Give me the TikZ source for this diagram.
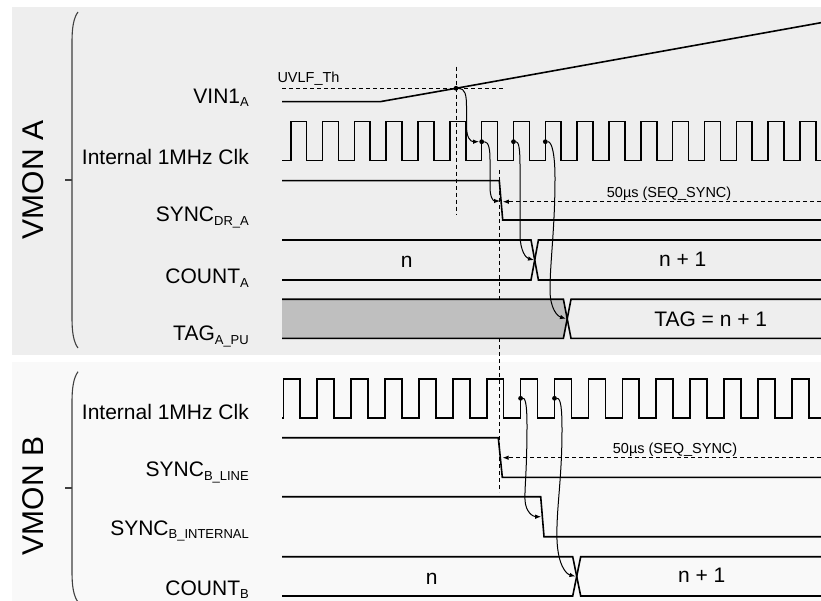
\documentclass[tikz,border=0pt]{standalone}
\usepackage{fontspec}
\setmainfont{Liberation Sans}
\usetikzlibrary{arrows.meta}
\definecolor{bgA}{HTML}{EEEEEE}
\definecolor{bgB}{HTML}{F9F9F9}
\definecolor{tagfill}{HTML}{BFBFBF}
\newcommand{\sigsub}[1]{\raisebox{-3.5pt}{\fontsize{13}{13}\selectfont #1}}
\begin{document}
\begin{tikzpicture}[x=1pt,y=-1pt,
  sig/.style={line width=1.6pt, line join=miter},
  lbl/.style={anchor=base east, inner sep=0pt, font=\fontsize{21}{25}\selectfont},
  buslbl/.style={anchor=base, inner sep=0pt, font=\fontsize{21}{25}\selectfont},
  note/.style={anchor=base west, inner sep=0pt, font=\fontsize{14.5}{17}\selectfont},
  grp/.style={rotate=90, inner sep=0pt, font=\fontsize{30}{34}\selectfont},
  guide/.style={line width=0.9pt, dash pattern=on 4pt off 3pt},
  cause/.style={line width=1pt, -{Latex[length=6pt,width=4.5pt]}},
  evdot/.style={circle, fill=black, inner sep=0pt, minimum size=4.8pt},
  bracket/.style={line width=1.1pt, draw=black!75},
]
\useasboundingbox (0,0) rectangle (821,601);
% backgrounds
\fill[bgA] (12,7) rectangle (821,355);
\fill[bgB] (12,362.3) rectangle (821,601);

% group brackets
\draw[bracket] (78,12) .. controls (73.5,18) and (72,28) .. (72,42) -- (72,318) .. controls (72,332) and (73.5,342) .. (78,348);
\draw[bracket] (65,180) -- (72,180);
\draw[bracket] (78,371.7) .. controls (73.5,378) and (72,388) .. (72,402) -- (72,572) .. controls (72,586) and (73.5,596) .. (78,602);
\draw[bracket] (65,488) -- (72,488);
\node[grp] (vmonA) at (33,180) {VMON A};
\node[grp] (vmonB) at (33,496) {VMON B};

% labels section A
\node[lbl] (lvin) at (249,103.3) {VIN1\sigsub{A}};
\node[lbl] (lclkA) at (249,165) {Internal 1MHz Clk};
\node[lbl] (lsyncA) at (249,221.7) {SYNC\sigsub{DR\_A}};
\node[lbl] (lcntA) at (249,284) {COUNT\sigsub{A}};
\node[lbl] (ltagA) at (249,340.7) {TAG\sigsub{A\_PU}};
% labels section B
\node[lbl] (lclkB) at (249,419) {Internal 1MHz Clk};
\node[lbl] (lsyncB) at (249,476.7) {SYNC\sigsub{B\_LINE}};
\node[lbl] (lsyncBi) at (249,535) {SYNC\sigsub{B\_INTERNAL}};
\node[lbl] (lcntB) at (249,595) {COUNT\sigsub{B}};

% threshold
\draw[guide] (282,88.3) -- (503,88.3);
\node[note] (uvlf) at (277.3,82.3) {UVLF\_Th};
% VIN1_A
\node[evdot] (dv) at (456,88.3) {};
\draw[sig] (282,101.7) -- (380,101.7) -- (dv.center) -- (821,22.7);

% vertical guides
\draw[guide] (456,66.7) -- (456,215);
\draw[guide] (499.3,170) -- (499.3,492);

% clock A
\draw[sig] (282,160.7) \foreach \k in {0,...,16}{ -- ({290.7+\k*31.83},160.7) -- ++(0,-39) -- ++(15.92,0) -- ++(0,39)} -- (821,160.7);
\node[evdot] (dA1) at (481.68,141.7) {};
\node[evdot] (dA2) at (513.51,141.7) {};
\node[evdot] (dA3) at (545.34,141.7) {};

% SYNC_DR_A
\draw[sig] (282,180.7) -- (499.3,180.7) -- (502.7,220) -- (821,220);
\coordinate (tSyncA) at (500,201);
\coordinate (tSeqA) at (502.8,201.7);
\coordinate (eSeqA) at (821,201.7);
\draw[guide, -{Latex[length=6pt,width=4.5pt]}] (eSeqA) -- (tSeqA);
\node[note] (seqA) at (606.7,197.3) {50µs (SEQ\_SYNC)};

% COUNT_A
\draw[sig] (282,240) -- (531,240) -- (538.4,280) -- (821,280);
\draw[sig] (282,280) -- (531,280) -- (538.4,240) -- (821,240);
\node[buslbl] (nA) at (406.7,267.3) {n};
\node[buslbl] (n1A) at (682.7,267) {n + 1};
\coordinate (tCntA) at (534,260);

% TAG_A_PU
\fill[tagfill] (282,299.3) -- (563.4,299.3) -- (567.2,318.8) -- (563.4,338.3) -- (282,338.3) -- cycle;
\draw[sig] (282,299.3) -- (563.4,299.3) -- (571,338.3) -- (821,338.3);
\draw[sig] (282,338.3) -- (563.4,338.3) -- (571,299.3) -- (821,299.3);
\node[buslbl] (tagtxt) at (710.7,326.7) {TAG = n + 1};
\coordinate (tTagA) at (566,318.8);

% causal arrows A
\draw[cause] (dv) .. controls (465,88.3) and (466.5,95) .. (466.5,106) -- (466.5,126) .. controls (466.5,137) and (470,141.7) .. (dA1);
\draw[cause] (dA1) .. controls (489,141.7) and (490,150) .. (490,160) -- (490,187) .. controls (490,197) and (493,201) .. (tSyncA);
\draw[cause] (dA2) .. controls (519,141.7) and (520,150) .. (520,166) -- (520,234) .. controls (520,251) and (526,258) .. (tCntA);
\draw[cause] (dA3) .. controls (552,141.7) and (555,155) .. (555,178) .. controls (555,228) and (550,262) .. (550,290) .. controls (550,308) and (557,316) .. (tTagA);

% clock B
\draw[sig] (282,417.7) \foreach \k in {0,...,15}{ -- ({283.3+\k*33.9},417.7) -- ++(0,-38.7) -- ++(16.95,0) -- ++(0,38.7)} -- (821,417.7);
\node[evdot] (dB1) at (520.6,398.3) {};
\node[evdot] (dB2) at (554.5,398.3) {};

% SYNC_B_LINE
\draw[sig] (282,437.7) -- (498.3,437.7) -- (502.3,477.3) -- (821,477.3);
\coordinate (tSeqB) at (502.6,457.7);
\coordinate (eSeqB) at (821,457.7);
\draw[guide, -{Latex[length=6pt,width=4.5pt]}] (eSeqB) -- (tSeqB);
\node[note] (seqB) at (612.7,453.3) {50µs (SEQ\_SYNC)};

% SYNC_B_INTERNAL
\draw[sig] (282,496.7) -- (540.7,496.7) -- (544,536.7) -- (821,536.7);
\coordinate (tSyncB) at (541.2,516.7);

% COUNT_B
\draw[sig] (282,556.7) -- (572.7,556.7) -- (580.7,596) -- (821,596);
\draw[sig] (282,596) -- (572.7,596) -- (580.7,556.7) -- (821,556.7);
\node[buslbl] (nB) at (431.7,584) {n};
\node[buslbl] (n1B) at (701.7,582.7) {n + 1};
\coordinate (tCntB) at (575.5,576.4);

% causal arrows B
\draw[cause] (dB1) .. controls (526,398.3) and (527,410) .. (527,425) .. controls (527,470) and (524.5,488) .. (525,500) .. controls (525.5,512) and (533,516.7) .. (tSyncB);
\draw[cause] (dB2) .. controls (561,398.3) and (562,410) .. (562,430) .. controls (562,480) and (556,510) .. (557,540) .. controls (558,565) and (566,574) .. (tCntB);
\end{tikzpicture}
\end{document}
